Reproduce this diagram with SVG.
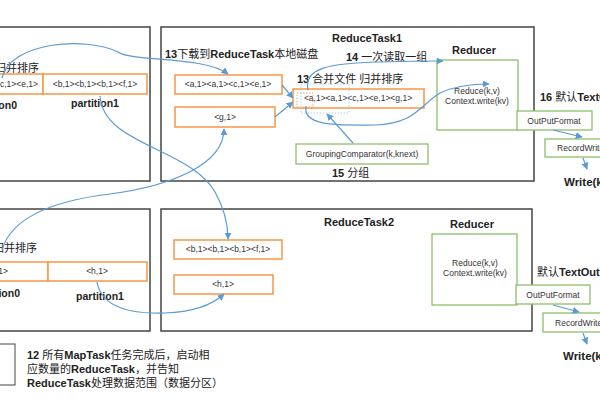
<svg xmlns="http://www.w3.org/2000/svg" width="600" height="400" viewBox="0 0 600 400">
<style>
text{font-family:"Liberation Sans","Noto Sans CJK SC",sans-serif;fill:#222}
.frame{fill:#fff;stroke:#444;stroke-width:1.5}
.or{fill:#fff;stroke:#F79646;stroke-width:1.5}
.gr{fill:#fff;stroke:#8DC06B;stroke-width:1.3}
.sm{font-size:8.5px;fill:#333}
.lb{font-size:11px}
.b{font-weight:bold}
.ttl{font-size:11px;font-weight:bold}
.con{fill:none;stroke:#5B9BD5;stroke-width:1.2}
</style>
<defs>
<marker id="ah" viewBox="0 0 10 10" refX="9" refY="5" markerWidth="7" markerHeight="7" orient="auto" markerUnits="userSpaceOnUse">
<path d="M0,0 L10,5 L0,10 z" fill="#5B9BD5"/>
</marker>
</defs>

<g id="maptask1">
<rect class="frame" x="-10" y="27" width="160" height="154"/>
<text class="lb" x="-5" y="72">归并排序</text>
<rect class="or" x="-10" y="74" width="53" height="20"/>
<text class="sm" x="38" y="87" text-anchor="end">&lt;a,1&gt;&lt;a,1&gt;&lt;c,1&gt;&lt;e,1&gt;</text>
<rect class="or" x="43" y="74" width="104" height="20"/>
<text class="sm" x="95" y="87" text-anchor="middle">&lt;b,1&gt;&lt;b,1&gt;&lt;b,1&gt;&lt;f,1&gt;</text>
<text class="b" font-size="10.5" x="17" y="109" text-anchor="end">partition0</text>
<text class="b" font-size="10.5" x="95" y="107" text-anchor="middle">partition1</text>
</g>

<g id="maptask2">
<rect class="frame" x="-10" y="209" width="160" height="122"/>
<text class="lb" x="-7" y="252">归并排序</text>
<rect class="or" x="-10" y="262" width="58" height="19"/>
<text class="sm" x="8" y="274" text-anchor="end">&lt;g,1&gt;</text>
<rect class="or" x="48" y="262" width="99" height="19"/>
<text class="sm" x="97" y="274" text-anchor="middle">&lt;h,1&gt;</text>
<text class="b" font-size="10.5" x="20" y="297" text-anchor="end">partition0</text>
<text class="b" font-size="10.5" x="100" y="300" text-anchor="middle">partition1</text>
</g>

<g id="legend">
<rect x="-10" y="344" width="25" height="41" fill="#fff" stroke="#444" stroke-width="1"/>
<text class="lb" x="27" y="359"><tspan class="b">12 </tspan>所有<tspan class="b">MapTask</tspan>任务完成后，启动相</text>
<text class="lb" x="27" y="373">应数量的<tspan class="b">ReduceTask</tspan>，并告知</text>
<text class="lb" x="27" y="387"><tspan class="b">ReduceTask</tspan>处理数据范围（数据分区）</text>
</g>

<g id="reducetask1">
<rect class="frame" x="161" y="27" width="373" height="154"/>
<text class="ttl" x="367" y="42" text-anchor="middle">ReduceTask1</text>
<text class="lb" x="165" y="58"><tspan class="b">13</tspan>下载到<tspan class="b">ReduceTask</tspan>本地磁盘</text>
<text class="lb" x="346" y="61"><tspan class="b">14 </tspan>一次读取一组</text>
<rect class="or" x="175" y="75" width="107" height="19"/>
<text class="sm" x="228" y="87" text-anchor="middle">&lt;a,1&gt;&lt;a,1&gt;&lt;c,1&gt;&lt;e,1&gt;</text>
<rect class="or" x="175" y="107" width="100" height="20"/>
<text class="sm" x="225" y="120" text-anchor="middle">&lt;g,1&gt;</text>
<text class="lb" x="297" y="83"><tspan class="b">13 </tspan>合并文件 归并排序</text>
<rect class="or" x="293" y="89" width="131" height="19"/>
<text class="sm" x="358" y="101" text-anchor="middle">&lt;a,1&gt;&lt;a,1&gt;&lt;c,1&gt;&lt;e,1&gt;&lt;g,1&gt;</text>
<rect x="301" y="84" width="48" height="29" fill="none" stroke="#A9C4E4" stroke-width="0.8" stroke-dasharray="1.5,1.5"/>
<rect x="297" y="93" width="16" height="14" fill="none" stroke="#F0A040" stroke-width="0.8" stroke-dasharray="1.5,1.5"/>
<rect class="gr" x="296" y="144" width="132" height="20"/>
<text class="sm" x="362" y="157" text-anchor="middle">GroupingComparator(k,knext)</text>
<text class="lb" x="332" y="177"><tspan class="b">15 </tspan>分组</text>
</g>

<g id="reducer1">
<text class="ttl" x="474" y="54" text-anchor="middle">Reducer</text>
<rect class="gr" x="437" y="60" width="81" height="70"/>
<text class="sm" x="477" y="94" text-anchor="middle">Reduce(k,v)</text>
<text class="sm" x="477" y="104" text-anchor="middle">Context.write(kv)</text>
</g>

<g id="output1">
<text class="lb" x="540" y="101"><tspan class="b">16 </tspan>默认<tspan class="b">TextOutputFormat</tspan></text>
<rect class="gr" x="517" y="111" width="75" height="19"/>
<text class="sm" x="554" y="124" text-anchor="middle">OutPutFormat</text>
<rect class="gr" x="545" y="139" width="75" height="18"/>
<text class="sm" x="582" y="151" text-anchor="middle">RecordWriter</text>
<text class="b" font-size="11.5" x="564" y="186">Write(k,v)</text>
</g>

<g id="reducetask2">
<rect class="frame" x="161" y="209" width="371" height="122"/>
<text class="ttl" x="359" y="226" text-anchor="middle">ReduceTask2</text>
<rect class="or" x="174" y="240" width="108" height="19"/>
<text class="sm" x="228" y="252" text-anchor="middle">&lt;b,1&gt;&lt;b,1&gt;&lt;b,1&gt;&lt;f,1&gt;</text>
<rect class="or" x="174" y="275" width="99" height="19"/>
<text class="sm" x="223" y="287" text-anchor="middle">&lt;h,1&gt;</text>
</g>

<g id="reducer2">
<text class="ttl" x="472" y="228" text-anchor="middle">Reducer</text>
<rect class="gr" x="432" y="234" width="85" height="71"/>
<text class="sm" x="475" y="266" text-anchor="middle">Reduce(k,v)</text>
<text class="sm" x="475" y="276" text-anchor="middle">Context.write(kv)</text>
</g>

<g id="output2">
<text class="lb" x="537" y="276">默认<tspan class="b">TextOutputFormat</tspan></text>
<rect class="gr" x="516" y="285" width="74" height="19"/>
<text class="sm" x="553" y="298" text-anchor="middle">OutPutFormat</text>
<rect class="gr" x="543" y="313" width="75" height="19"/>
<text class="sm" x="580" y="326" text-anchor="middle">RecordWriter</text>
<text class="b" font-size="11.5" x="563" y="360">Write(k,v)</text>
</g>

<g id="connectors">
<path class="con" marker-end="url(#ah)" d="M2 78 C10 42,85 36,118 52 C132 62,205 56,228 74"/>
<path class="con" marker-end="url(#ah)" d="M100 96 C103 145,190 148,215 192 C224 208,228 222,228 239"/>
<path class="con" marker-end="url(#ah)" d="M2 250 C12 215,60 200,110 194 C170 186,224 165,224 129"/>
<path class="con" marker-end="url(#ah)" d="M97 282 C102 310,135 314,165 313 C195 312,212 305,224 294"/>
<path class="con" marker-end="url(#ah)" d="M282 85 L293 98"/>
<path class="con" marker-end="url(#ah)" d="M275 117 L293 102"/>
<path class="con" marker-end="url(#ah)" d="M308 90 C303 68,330 63,380 62 C410 61,430 61,443 61"/>
<path class="con" marker-end="url(#ah)" d="M306 106 C302 127,340 125,375 125 C415 124,420 105,440 93 C455 86,470 84,489 84"/>
<path class="con" marker-end="url(#ah)" d="M353 143 L327 114"/>
<path class="con" marker-end="url(#ah)" d="M553 130 L582 137"/>
<path class="con" marker-end="url(#ah)" d="M583 158 L587 169"/>
<path class="con" marker-end="url(#ah)" d="M553 305 L579 312"/>
<path class="con" marker-end="url(#ah)" d="M583 333 L587 344"/>
</g>
</svg>
